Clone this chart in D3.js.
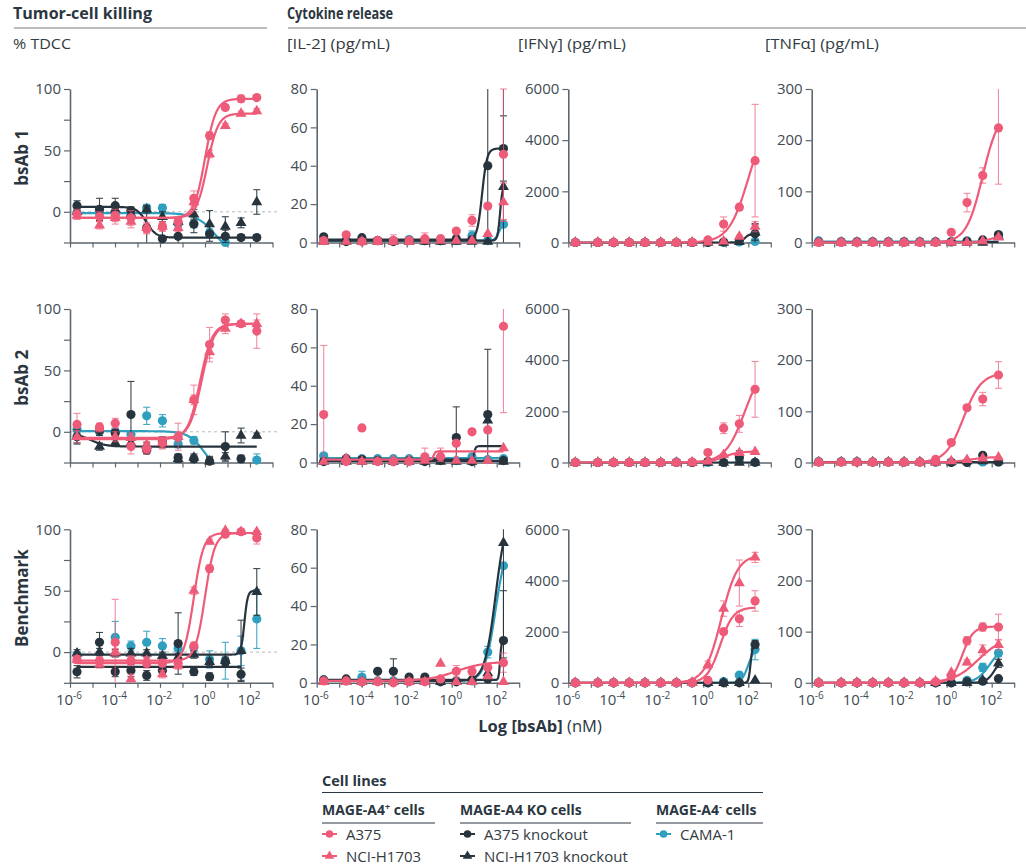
<!DOCTYPE html>
<html>
<head>
<meta charset="utf-8">
<script src="https://cdn.jsdelivr.net/npm/d3@7"></script>
<style>
  body { margin: 0; background: #fff; }
  svg { display: block; }
  text { font-family: "Open Sans", "Noto Sans", sans-serif; }
</style>
</head>
<body>
<svg id="chart" width="1026" height="867"></svg>
<script>
// Concentrations of bsAb tested (nM), 12-point titration
const concNM = [0.000002048, 0.00002048, 0.0001024, 0.000512, 0.00256, 0.0128, 0.064, 0.32, 1.6, 8, 40, 200];

// x-axis ticks (one per decade) and the exponents printed under every other decade
const xTickValues = [1e-6, 1e-5, 1e-4, 1e-3, 1e-2, 1e-1, 1e0, 1e1, 1e2, 1e3];
const xTickExponents = ["-6", null, "-4", null, "-2", null, "0", null, "2", null];

const rowLabels = ["bsAb 1", "bsAb 2", "Benchmark"];
const columnTitles = ["% TDCC", "[IL-2] (pg/mL)", "[IFNγ] (pg/mL)", "[TNFα] (pg/mL)"];

// Cell lines
const seriesKeys = ["a375", "h1703", "a375ko", "h1703ko", "cama1"];
const seriesNames = ["A375", "NCI-H1703", "A375 knockout", "NCI-H1703 knockout", "CAMA-1"];
const drawOrder = ["cama1", "h1703ko", "a375ko", "h1703", "a375"];
const seriesColor = { a375: "#ee5b79", h1703: "#ee5b79", a375ko: "#27343d", h1703ko: "#27343d", cama1: "#2f9fbf" };
const seriesShape = { a375: "circle", h1703: "triangle", a375ko: "circle", h1703ko: "triangle", cama1: "circle" };

// ---------- Tumor-cell killing (% TDCC) ----------
const tdcc1 = {
  a375:    [-2, -4, -3, -5, -14, -12, -8, 11, 62, 85, 92, 93],
  h1703:   [-3, -11, -5, -8, -13, -12, -13, 8, 47, 70, 80, 82],
  a375ko:  [5, 2, 5, 1, -13, -22, -20, -10, -18, -20, -21, -21],
  h1703ko: [0, -3, 2, -2, 2, -4, -8, -2, -10, -12, -9, 8],
  cama1:   [-1, -1, -1, -3, 3, 3, -10, -10, -17, -25, null, null]
};
const tdcc1Err = {
  a375:    [4, 4, 5, 6, 4, 4, 3, 6, 3, 2, 3, 2],
  h1703:   [3, 3, 5, 5, 4, 3, 3, 4, 3, 2, 2, 2],
  a375ko:  [4, 9, 6, 3, 17, 16, 6, 7, 6, 5, 2, 2],
  h1703ko: [3, 4, 3, 3, 3, 4, 3, 4, 11, 8, 4, 10],
  cama1:   [3, 3, 3, 3, 3, 3, 4, 3, 3, 2, 0, 0]
};
// fit parameters: [low plateau, high plateau, log EC50, Hill slope]
const tdcc1Fit = { a375: [-5, 92, 0.0, 1.8], h1703: [-5, 80, 0.1, 1.8], a375ko: [4, -21, -2.6, 2], cama1: [-1, -38, 0.5, 1] };

const tdcc2 = {
  a375:    [6, 4, 7, -12, -14, -9, -4, 26, 71, 91, 88, 82],
  h1703:   [-4, 3, -4, -5, -11, -9, -4, 26, 65, 84, 88, 88],
  a375ko:  [-4, 1, -1, 14, -15, -8, -21, -22, -24, -12, -22, null],
  h1703ko: [-4, -12, -9, -9, -11, -10, -22, -21, -24, -20, -3, -3],
  cama1:   [2, 0, 0, -2, 13, 9, -10, -7, null, null, null, -23]
};
const tdcc2Err = {
  a375:    [9, 3, 4, 6, 4, 5, 11, 12, 14, 5, 2, 14],
  h1703:   [5, 3, 4, 4, 3, 4, 4, 4, 5, 4, 2, 3],
  a375ko:  [6, 4, 3, 27, 3, 4, 3, 3, 3, 12, 3, 0],
  h1703ko: [5, 3, 3, 3, 2, 3, 3, 3, 4, 3, 6, 2],
  cama1:   [3, 3, 3, 3, 7, 5, 3, 3, 0, 0, 0, 5]
};
const tdcc2Fit = { a375: [-6, 88, -0.22, 1.6], h1703: [-5, 88, -0.15, 1.6], h1703ko: [-1, -12, -5.1, 1.3], cama1: [0.5, -35, 0, 1.2] };

const tdcc3 = {
  a375:    [-6, -7, 8, -7, -9, -9, -9, 5, 68, 96, 98, 93],
  h1703:   [-6, -10, 0, -22, -7, -18, -11, 50, 90, 99, 98, 98],
  a375ko:  [-16, 8, -16, -15, -19, -15, 7, -16, -20, -8, -18, null],
  h1703ko: [-1, 0, -1, -1, -1, -3, -4, -2, -8, -7, 1, 49],
  cama1:   [-2, null, 12, 5, 8, 5, 3, 4, -6, -7, 1, 27]
};
const tdcc3Err = {
  a375:    [3, 3, 35, 4, 4, 3, 3, 3, 3, 1, 1, 5],
  h1703:   [3, 3, 3, 4, 3, 3, 3, 3, 2, 1, 1, 1],
  a375ko:  [5, 8, 4, 5, 4, 3, 25, 3, 3, 3, 5, 0],
  h1703ko: [3, 3, 3, 4, 3, 3, 3, 3, 3, 3, 25, 19],
  cama1:   [2, 0, 13, 4, 9, 6, 5, 3, 7, 15, 12, 24]
};
const tdcc3Fit = { a375: [-7, 97, 0, 2], h1703: [-9, 97, -0.5, 2], a375ko: [-12, -12, 0, 1], h1703ko: [-2, 50, 1.75, 6] };

// ---------- IL-2 (pg/mL) ----------
const il2_1 = {
  a375:    [1, 4, 0.5, 1, 1, 1, 2, 2, 6, 11.5, 19, 46],
  h1703:   [0.5, 0.5, 0.5, 0.5, 0.5, 0.5, 1, 1, 1, 1, 4.5, 21],
  a375ko:  [3, 0.5, 2.5, 1, 0.5, 1, 1, 1, 2, 1.5, 40, 49],
  h1703ko: [0.5, 0.5, 0.5, 0.5, 0.5, 0.5, 0.5, 0.5, 0.5, 0.5, 0.5, 29],
  cama1:   [1, 1, 1, 1, 1, 1.5, 1, 1, 1, 3.5, 1, 9.5]
};
const il2_1Err = {
  a375:    [0.5, 1, 0.5, 0.5, 3, 0.5, 3, 1, 1, 3, 0, 34],
  h1703:   [0, 0, 0, 0, 0, 0, 0, 0, 0, 0, 0.5, 10],
  a375ko:  [0, 0, 0, 0, 0, 0, 0, 0, 0, 1, 45, 17],
  h1703ko: [0, 0, 0, 0, 0, 0, 0, 0, 0, 0, 0, 55],
  cama1:   [0, 0, 0, 0, 0, 0, 0, 0, 0, 2.5, 0, 1]
};
const il2_1Fit = { a375ko: [1.5, 49, 1.35, 4], h1703ko: [1, 30, 2.15, 8], cama1: [1, 10, 2.1, 5] };

const il2_2 = {
  a375:    [25, 0.5, 18, 0.5, 0.5, 0.5, 3, 3, 10, 16, 17, 71],
  h1703:   [0.5, 2, 0.5, 0.5, 1, 1, 1, 4, 1, 1, 1, 7.5],
  a375ko:  [0.5, 2, 1.5, 1, 0.5, 1, 0.5, 1, 13, 0.5, 25, 1],
  h1703ko: [0.5, 0.5, 0.5, 0.5, 0.5, 0.5, 0.5, 0.5, 0.5, 0.5, 22, 0.5],
  cama1:   [3.5, 2, 2, 2, 2, 2, 2, 2, 1, 3, 1.5, 2]
};
const il2_2Err = {
  a375:    [36, 0, 0, 0, 0, 0, 4.5, 0, 0, 0, 0, 45],
  h1703:   [0, 1.5, 0, 0, 0, 0, 0, 3.5, 0, 0, 0, 0],
  a375ko:  [0, 0, 0, 0, 0, 0, 0, 0, 16, 0, 34, 0],
  h1703ko: [0, 0, 0, 0, 0, 0, 0, 0, 0, 0, 0, 0],
  cama1:   [0, 0, 0, 0, 0, 0, 0, 0, 0, 0, 0, 0]
};
const il2_2Fit = { h1703: [1.5, 5.8, -0.8, 12], a375ko: [1.5, 8.5, 1.0, 12], cama1: [2.3, 2.3, 0, 1], h1703ko: [0.8, 0.8, 0, 1] };

const il2_3 = {
  a375:    [1, 1, 0.5, 0.5, 0, 0.5, 0.5, 2, 6, 6, 8, 10.5],
  h1703:   [0.5, 0.5, 0.5, 0.5, 0.5, 0.5, 0.5, 10, 0.5, 0.5, 3.5, 0.5],
  a375ko:  [1.5, 2, 0.5, 6, 6, 3, 3, 0.5, 0.5, 1.5, 2, 22],
  h1703ko: [0.5, 0.5, 0.5, 0.5, 0.5, 0.5, 0.5, 0.5, 0.5, 0.5, 5, 73],
  cama1:   [1.5, 1, 3, 1, 1, 1, 1, 1, 1, 1, 16, 61]
};
const il2_3Err = {
  a375:    [0, 0, 0, 0, 0, 0, 0, 0, 3, 2, 1, 5],
  h1703:   [0, 0, 0, 0, 0, 0, 0, 0, 0, 0, 0, 0],
  a375ko:  [0, 0, 0, 0, 6.5, 0, 0, 0, 0, 0, 0, 26],
  h1703ko: [0, 0, 0, 0, 0, 0, 0, 0, 0, 0, 0, 60],
  cama1:   [0, 0, 3, 0, 0, 0, 0, 0, 0, 0, 3, 0]
};
const il2_3Fit = { a375: [1, 11, 0.2, 0.7], a375ko: [1.5, 22, 2.15, 15], h1703ko: [1, 90, 1.95, 1.8], cama1: [1, 75, 1.95, 1.8] };

// ---------- IFNγ (pg/mL) ----------
const ifn1 = {
  a375:    [0, 0, 0, 0, 0, 0, 0, 10, 100, 720, 1380, 3200],
  h1703:   [0, 0, 0, 0, 0, 0, 0, 0, 10, 50, 230, 620],
  a375ko:  [0, 0, 0, 0, 0, 0, 0, 0, 0, 20, 100, 340],
  h1703ko: [0, 0, 0, 0, 0, 0, 0, 0, 0, 0, 30, 390],
  cama1:   [0, 0, 0, 0, 0, 0, 0, 0, 0, 0, 20, 40]
};
const ifn1Err = {
  a375:    [0, 0, 0, 0, 0, 0, 0, 0, 40, 280, 120, 2200],
  h1703:   [0, 0, 0, 0, 0, 0, 0, 0, 0, 0, 60, 200],
  a375ko:  [0, 0, 0, 0, 0, 0, 0, 0, 0, 0, 40, 400],
  h1703ko: [0, 0, 0, 0, 0, 0, 0, 0, 0, 0, 0, 300],
  cama1:   [0, 0, 0, 0, 0, 0, 0, 0, 0, 0, 0, 0]
};
const ifn1Fit = { a375: [0, 5000, 2.0, 1], a375ko: [0, 350, 1.85, 4] };

const ifn2 = {
  a375:    [0, 0, 0, 0, 0, 0, 0, 20, 390, 1340, 1510, 2860],
  h1703:   [0, 0, 0, 0, 0, 0, 0, 0, 50, 300, 380, 420],
  a375ko:  [0, 0, 0, 0, 0, 0, 0, 0, 40, 0, 210, 10],
  h1703ko: [0, 0, 0, 0, 0, 0, 0, 0, 0, 0, 0, 0],
  cama1:   [0, 0, 0, 0, 0, 0, 20, 0, 0, 0, 60, 0]
};
const ifn2Err = {
  a375:    [0, 0, 0, 0, 0, 0, 0, 0, 60, 210, 330, 1090],
  h1703:   [0, 0, 0, 0, 0, 0, 0, 0, 0, 40, 40, 50],
  a375ko:  [0, 0, 0, 0, 0, 0, 0, 0, 0, 0, 250, 0],
  h1703ko: [0, 0, 0, 0, 0, 0, 0, 0, 0, 0, 0, 0],
  cama1:   [0, 0, 0, 0, 0, 0, 0, 0, 0, 0, 0, 0]
};
const ifn2Fit = { a375: [0, 4000, 1.85, 1], h1703: [0, 430, 0.9, 1.3], h1703ko: [0, 0, 0, 1] };

const ifn3 = {
  a375:    [0, 0, 0, 0, 0, 0, 0, 0, 100, 2000, 2500, 3200],
  h1703:   [0, 0, 0, 0, 0, 0, 0, 0, 700, 2900, 3900, 4900],
  a375ko:  [0, 0, 0, 0, 0, 0, 0, 0, 0, 0, 0, 1500],
  h1703ko: [0, 0, 0, 0, 0, 0, 0, 0, 0, 0, 0, 100],
  cama1:   [0, 0, 0, 0, 0, 0, 0, 0, 0, 50, 300, 1300]
};
const ifn3Err = {
  a375:    [0, 0, 0, 0, 0, 0, 0, 0, 0, 100, 300, 400],
  h1703:   [0, 0, 0, 0, 0, 0, 0, 0, 150, 300, 900, 200],
  a375ko:  [0, 0, 0, 0, 0, 0, 0, 0, 0, 0, 0, 150],
  h1703ko: [0, 0, 0, 0, 0, 0, 0, 0, 0, 0, 0, 0],
  cama1:   [0, 0, 0, 0, 0, 0, 0, 0, 0, 0, 0, 400]
};
const ifn3Fit = { a375: [0, 2950, 0.75, 1.5], h1703: [0, 5000, 0.8, 1.2], a375ko: [0, 1500, 2.1, 10], cama1: [0, 1400, 2.0, 3] };

// ---------- TNFα (pg/mL) ----------
const tnf1 = {
  a375:    [0, 0, 0, 0, 0, 0, 0, 0, 20, 78, 131, 224],
  h1703:   [0, 0, 0, 0, 0, 0, 0, 0, 0, 0, 3, 10],
  a375ko:  [1, 1, 1, 1, 1, 1, 1, 1, 1, 2, 5, 15],
  h1703ko: [0, 0, 0, 0, 0, 0, 0, 0, 0, 0, 0, 12],
  cama1:   [3, 2, 2, 2, 2, 2, 2, 2, 2, 3, 3, 15]
};
const tnf1Err = {
  a375:    [0, 0, 0, 0, 0, 0, 0, 0, 3, 18, 15, 110],
  h1703:   [0, 0, 0, 0, 0, 0, 0, 0, 0, 0, 0, 3],
  a375ko:  [0, 0, 0, 0, 0, 0, 0, 0, 0, 0, 0, 4],
  h1703ko: [0, 0, 0, 0, 0, 0, 0, 0, 0, 0, 0, 4],
  cama1:   [0, 0, 0, 0, 0, 0, 0, 0, 0, 0, 0, 3]
};
const tnf1Fit = { a375: [0, 260, 1.6, 1.2], h1703: [0, 15, 2.0, 1.5], a375ko: [1, 1, 0, 1], cama1: [1.8, 1.8, 0, 1] };

const tnf2 = {
  a375:    [1, 1, 1, 1, 1, 1, 1, 6, 39, 107, 124, 171],
  h1703:   [0, 0, 0, 0, 0, 0, 0, 0, 3, 5, 8, 10],
  a375ko:  [1, 1, 1, 1, 1, 1, 1, 1, 0, 0, 14, 1],
  h1703ko: [1, 1, 1, 1, 1, 1, 1, 1, 1, 3, 3, 3],
  cama1:   [2, 2, 2, 1, 1, 1, 1, 1, 1, 1, 1, 1]
};
const tnf2Err = {
  a375:    [0, 0, 0, 0, 0, 0, 0, 0, 3, 5, 13, 26],
  h1703:   [0, 0, 0, 0, 0, 0, 0, 0, 0, 0, 0, 0],
  a375ko:  [0, 0, 0, 0, 0, 0, 0, 0, 0, 0, 3, 0],
  h1703ko: [0, 0, 0, 0, 0, 0, 0, 0, 0, 0, 0, 0],
  cama1:   [0, 0, 0, 0, 0, 0, 0, 0, 0, 0, 0, 0]
};
const tnf2Fit = { a375: [0, 175, 0.75, 1.1], h1703: [0, 11, 1.0, 1], h1703ko: [1, 1, 0, 1] };

const tnf3 = {
  a375:    [0, 0, 0, 0, 0, 0, 0, 2, 13, 82, 109, 109],
  h1703:   [0, 0, 0, 0, 0, 0, 0, 3, 20, 40, 64, 74],
  a375ko:  [0, 0, 0, 0, 0, 0, 0, 0, 0, 2, 3, 8],
  h1703ko: [0, 0, 0, 0, 0, 0, 0, 0, 0, 0, 5, 38],
  cama1:   [0, 0, 0, 0, 0, 0, 0, 0, 0, 5, 30, 58]
};
const tnf3Err = {
  a375:    [0, 0, 0, 0, 0, 0, 0, 0, 0, 8, 8, 25],
  h1703:   [0, 0, 0, 0, 0, 0, 0, 0, 0, 5, 10, 10],
  a375ko:  [0, 0, 0, 0, 0, 0, 0, 0, 0, 0, 0, 4],
  h1703ko: [0, 0, 0, 0, 0, 0, 0, 0, 0, 0, 0, 8],
  cama1:   [0, 0, 0, 0, 0, 0, 0, 0, 0, 0, 8, 6]
};
const tnf3Fit = { a375: [0, 110, 0.7, 1.8], h1703: [0, 90, 1.4, 0.8], cama1: [0, 70, 1.9, 1.5], h1703ko: [0, 45, 2.1, 2.5] };

// Per-column y-axis settings
const yDomains = [[-25, 100], [0, 80], [0, 6000], [0, 300]];
const yTickValues = [[-25, 0, 25, 50, 75, 100], [0, 20, 40, 60, 80], [0, 2000, 4000, 6000], [0, 100, 200, 300]];
const yTickShown = [[0, 50, 100], [0, 20, 40, 60, 80], [0, 2000, 4000, 6000], [0, 100, 200, 300]];

const grid = [
  [[tdcc1, tdcc1Err, tdcc1Fit], [il2_1, il2_1Err, il2_1Fit], [ifn1, ifn1Err, ifn1Fit], [tnf1, tnf1Err, tnf1Fit]],
  [[tdcc2, tdcc2Err, tdcc2Fit], [il2_2, il2_2Err, il2_2Fit], [ifn2, ifn2Err, ifn2Fit], [tnf2, tnf2Err, tnf2Fit]],
  [[tdcc3, tdcc3Err, tdcc3Fit], [il2_3, il2_3Err, il2_3Fit], [ifn3, ifn3Err, ifn3Fit], [tnf3, tnf3Err, tnf3Fit]]
];

// ---------- layout ----------
const svg = d3.select("#chart");
const colLeft = [70, 316.7, 568.3, 811.7];
const plotW = 202.5;
const rowTop = [89, 309, 529.3];
const plotH = 153.5;
const axisColor = "#5d676f";
const textColor = "#414b53";

// section headers
function header(x, x2, label, width) {
  svg.append("text").attr("x", x).attr("y", 19).attr("font-size", 16).attr("font-weight", 700)
    .attr("fill", "#2b3640").attr("textLength", width).attr("lengthAdjust", "spacingAndGlyphs").text(label);
  svg.append("line").attr("x1", x + 1).attr("x2", x2).attr("y1", 28).attr("y2", 28)
    .attr("stroke", "#b9bcbf").attr("stroke-width", 2);
}
header(13, 267, "Tumor-cell killing", 139);
header(287, 1026, "Cytokine release", 106);

const subX = [13, 287, 518, 765];
const subW = [58, 103, 108, 114];
columnTitles.forEach((t, i) => {
  svg.append("text").attr("x", subX[i]).attr("y", 49).attr("font-size", 15).attr("fill", "#333b42")
    .attr("textLength", subW[i]).attr("lengthAdjust", "spacingAndGlyphs").text(t);
});

function logistic(p, l) {
  return p[0] + (p[1] - p[0]) / (1 + Math.pow(10, (p[2] - l) * p[3]));
}

const triangle = d3.symbol().type(d3.symbolTriangle).size(52);

grid.forEach((row, r) => {
  // row label
  svg.append("text")
    .attr("transform", `translate(28,${rowTop[r] + plotH / 2 - 8}) rotate(-90)`)
    .attr("text-anchor", "middle").attr("font-size", 17).attr("font-weight", 700).attr("fill", "#2b3640")
    .text(rowLabels[r]);

  row.forEach(([vals, errs, fits], c) => {
    const x = d3.scaleLog().domain([1e-6, 1e3]).range([colLeft[c], colLeft[c] + plotW]);
    const dom = yDomains[c];
    const y = d3.scaleLinear().domain(dom).range([rowTop[r] + plotH, rowTop[r]]);
    const g = svg.append("g");
    const clipId = `clip-${r}-${c}`;
    svg.append("clipPath").attr("id", clipId).append("rect")
      .attr("x", colLeft[c] - 2).attr("y", rowTop[r] - 2).attr("width", plotW + 4).attr("height", plotH + 3);

    // zero reference line for killing panels
    if (c === 0) {
      g.append("line").attr("x1", colLeft[c]).attr("x2", colLeft[c] + plotW + 6)
        .attr("y1", y(0)).attr("y2", y(0)).attr("stroke", "#b5b8bb").attr("stroke-width", 1)
        .attr("stroke-dasharray", "3,3");
    }

    // axes
    const yAxis = d3.axisLeft(y).tickValues(yTickValues[c]).tickSize(6).tickSizeOuter(0).tickPadding(3)
      .tickFormat(d => yTickShown[c].includes(d) ? d : "");
    const ya = g.append("g").attr("transform", `translate(${colLeft[c]},0)`).call(yAxis);
    const xAxis = d3.axisBottom(x).tickValues(xTickValues).tickSize(5).tickSizeOuter(0).tickFormat(() => "");
    const xa = g.append("g").attr("transform", `translate(0,${rowTop[r] + plotH})`).call(xAxis);
    [ya, xa].forEach(a => {
      a.select(".domain").attr("stroke", axisColor).attr("stroke-width", 1.6);
      a.selectAll(".tick line").attr("stroke", axisColor).attr("stroke-width", 1.2);
      a.selectAll("text").attr("font-size", 15).attr("fill", textColor)
        .attr("font-family", '"Open Sans", "Noto Sans", sans-serif');
    });

    // decade labels on the bottom row
    if (r === 2) {
      xTickValues.forEach((v, i) => {
        const ex = xTickExponents[i];
        if (ex === null) return;
        const t = g.append("text").attr("x", x(v) - 1).attr("y", rowTop[r] + plotH + 22)
          .attr("text-anchor", "middle").attr("font-size", 15).attr("fill", textColor);
        t.append("tspan").text("10");
        t.append("tspan").attr("dy", -6).attr("font-size", 10).text(ex);
      });
    }

    const plot = g.append("g");
    drawOrder.forEach(k => {
      const col = seriesColor[k];
      const v = vals[k], e = errs[k];
      const pts = concNM.map((cn, i) => ({ cn, v: v[i], e: e[i] })).filter(p => p.v !== null);

      // fitted curve
      if (fits[k]) {
        const l0 = Math.log10(pts[0].cn), l1 = Math.log10(pts[pts.length - 1].cn);
        const ls = d3.range(0, 201).map(i => l0 + (l1 - l0) * i / 200);
        plot.append("path").attr("clip-path", `url(#${clipId})`)
          .attr("d", d3.line().x(l => x(Math.pow(10, l))).y(l => y(logistic(fits[k], l)))(ls))
          .attr("fill", "none").attr("stroke", col).attr("stroke-width", 2.2);
      }

      // error bars
      pts.filter(p => p.e > 0).forEach(p => {
        const lo = p.v - p.e, hi = p.v + p.e;
        const px = x(p.cn);
        const yLo = y(Math.max(lo, dom[0])), yHi = y(Math.min(hi, dom[1]));
        const eg = plot.append("g").attr("stroke", col).attr("stroke-width", 1.1)
          .attr("opacity", k === "a375" || k === "h1703" ? 0.7 : 0.9);
        eg.append("line").attr("x1", px).attr("x2", px).attr("y1", yLo).attr("y2", yHi);
        if (hi <= dom[1]) eg.append("line").attr("x1", px - 3.5).attr("x2", px + 3.5).attr("y1", yHi).attr("y2", yHi);
        if (lo >= dom[0]) eg.append("line").attr("x1", px - 3.5).attr("x2", px + 3.5).attr("y1", yLo).attr("y2", yLo);
      });

      // markers
      pts.filter(p => p.v >= dom[0] - 0.5 && p.v <= dom[1]).forEach(p => {
        if (seriesShape[k] === "circle") {
          plot.append("circle").attr("cx", x(p.cn)).attr("cy", y(p.v)).attr("r", 4.6).attr("fill", col);
        } else {
          plot.append("path").attr("d", triangle)
            .attr("transform", `translate(${x(p.cn)},${y(p.v)})`).attr("fill", col);
        }
      });
    });
  });
});

// x-axis title
const xt = svg.append("text").attr("x", 540).attr("y", 732).attr("text-anchor", "middle")
  .attr("font-size", 16.5).attr("fill", "#2b3640");
xt.append("tspan").attr("font-weight", 700).text("Log [bsAb]");
xt.append("tspan").text(" (nM)");

// ---------- legend ----------
const lg = svg.append("g");
lg.append("text").attr("x", 322).attr("y", 786).attr("font-size", 14.5).attr("font-weight", 700)
  .attr("fill", "#2b3640").text("Cell lines");
lg.append("line").attr("x1", 322).attr("x2", 763).attr("y1", 792.5).attr("y2", 792.5)
  .attr("stroke", "#2b3640").attr("stroke-width", 1.2);

const legendGroups = [
  { x: 322, w: 113, title: ["MAGE-A4", "+", " cells"], keys: ["a375", "h1703"] },
  { x: 460, w: 171, title: ["MAGE-A4 KO cells", "", ""], keys: ["a375ko", "h1703ko"] },
  { x: 656, w: 107, title: ["MAGE-A4", "-", " cells"], keys: ["cama1"] }
];
legendGroups.forEach(gr => {
  const t = lg.append("text").attr("x", gr.x).attr("y", 815).attr("font-size", 14).attr("font-weight", 700)
    .attr("fill", "#2b3640");
  t.append("tspan").text(gr.title[0]);
  if (gr.title[1]) t.append("tspan").attr("dy", -5).attr("font-size", 9).text(gr.title[1]);
  if (gr.title[2]) t.append("tspan").attr("dy", gr.title[1] ? 5 : 0).text(gr.title[2]);
  lg.append("line").attr("x1", gr.x).attr("x2", gr.x + gr.w).attr("y1", 823).attr("y2", 823)
    .attr("stroke", "#2b3640").attr("stroke-width", 1.2);
  gr.keys.forEach((k, i) => {
    const cy = 834 + i * 22;
    const mx = gr.x + 7.5;
    const col = seriesColor[k];
    lg.append("line").attr("x1", mx - 7.5).attr("x2", mx + 7.5).attr("y1", cy).attr("y2", cy)
      .attr("stroke", col).attr("stroke-width", 2);
    if (seriesShape[k] === "circle") {
      lg.append("circle").attr("cx", mx).attr("cy", cy).attr("r", 3.8).attr("fill", col);
    } else {
      lg.append("path").attr("d", d3.symbol().type(d3.symbolTriangle).size(40))
        .attr("transform", `translate(${mx},${cy})`).attr("fill", col);
    }
    lg.append("text").attr("x", gr.x + 24).attr("y", cy + 6).attr("font-size", 15).attr("fill", "#333b42")
      .text(seriesNames[seriesKeys.indexOf(k)]);
  });
});
</script>
</body>
</html>
